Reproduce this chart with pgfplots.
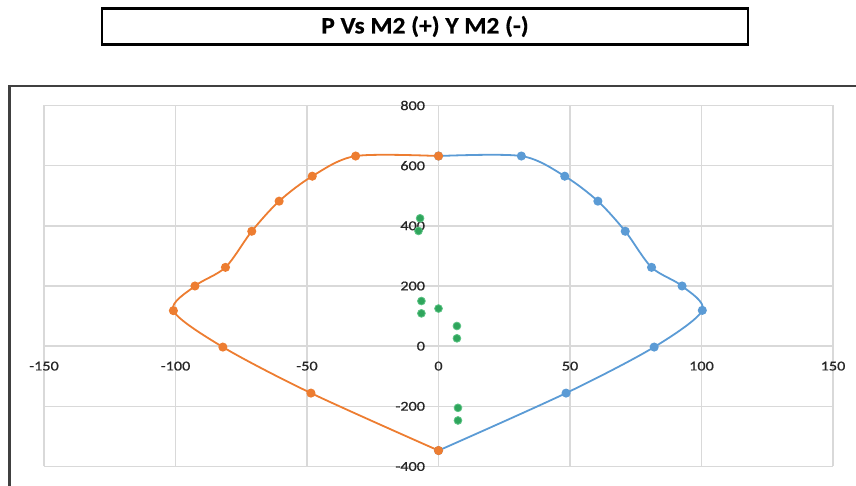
\documentclass[border=0pt]{standalone}
\usepackage{fontspec}
\setmainfont{Carlito}
\newfontfamily\titlefont{Carlito}[FakeStretch=1.08, FakeBold=0.6]
\newfontfamily\tickfont{Carlito}[FakeStretch=1.2, FakeBold=0.8]
\usepackage{pgfplots}
\pgfplotsset{compat=1.18}
\definecolor{xlorange}{HTML}{ED7D31}
\definecolor{xlblue}{HTML}{5B9BD5}
\definecolor{xlgreen}{HTML}{2FA55C}
\definecolor{xlgreenedge}{HTML}{5CC384}
\definecolor{gridgray}{HTML}{D9D9D9}
\begin{document}
\begin{tikzpicture}[x=1bp,y=1bp]
\useasboundingbox (0,0) rectangle (856,486);
\draw[line width=2.5bp, color=black!75] (9.5,-5) -- (9.5,400) -- (870,400);
\draw[line width=2.5bp] (102,477.5) rectangle (748,441.5);
\node[font=\titlefont\bfseries\fontsize{23.5bp}{26bp}\selectfont] at (425,459.5) {P Vs M2 (+) Y M2 (-)};
\begin{axis}[at={(44bp,19.5bp)}, anchor=south west, scale only axis,
  width=789bp, height=361bp,
  xmin=-150, xmax=150, ymin=-400, ymax=800,
  axis lines=middle,
  xtick={-150,-100,...,150}, ytick={-400,-200,...,800},
  grid=major, grid style={line width=1.4bp, color=gridgray},
  axis line style={line width=1.4bp, color=gridgray, -},
  major tick length=0,
  tick label style={font=\tickfont\fontsize{13.5bp}{15bp}\selectfont, text=black!85},
  /pgf/number format/assume math mode=true,
  hide obscured x ticks=false, hide obscured y ticks=false,
  xticklabel style={anchor=north, yshift=-12bp},
  yticklabel style={anchor=east, xshift=-10bp},
  clip=false]
\addplot[color=xlblue, line width=1.8bp, smooth, tension=0.5, mark=*, mark size=3.6bp, mark options={solid, fill=xlblue}]
  coordinates {(0,632) (31.5,632) (48,565) (60.6,482) (71,382) (81,262) (92.6,200) (100.3,119) (82,-3) (48.5,-156) (0,-347)};
\addplot[color=xlorange, line width=1.8bp, smooth, tension=0.5, mark=*, mark size=3.6bp, mark options={solid, fill=xlorange}]
  coordinates {(0,632) (-31.5,632) (-48,565) (-60.6,482) (-71,382) (-81,262) (-92.6,200) (-100.8,118) (-82,-3) (-48.5,-156) (0,-347)};
\addplot[only marks, mark=*, mark size=3.9bp, mark options={fill=xlgreen, draw=xlgreenedge, line width=0.8bp}]
  coordinates {(-7,425) (-7.6,383) (-6.5,150) (-6.5,109) (0,125) (7,67) (7,26) (7.4,-205) (7.4,-247)};
\end{axis}
\end{tikzpicture}
\end{document}
